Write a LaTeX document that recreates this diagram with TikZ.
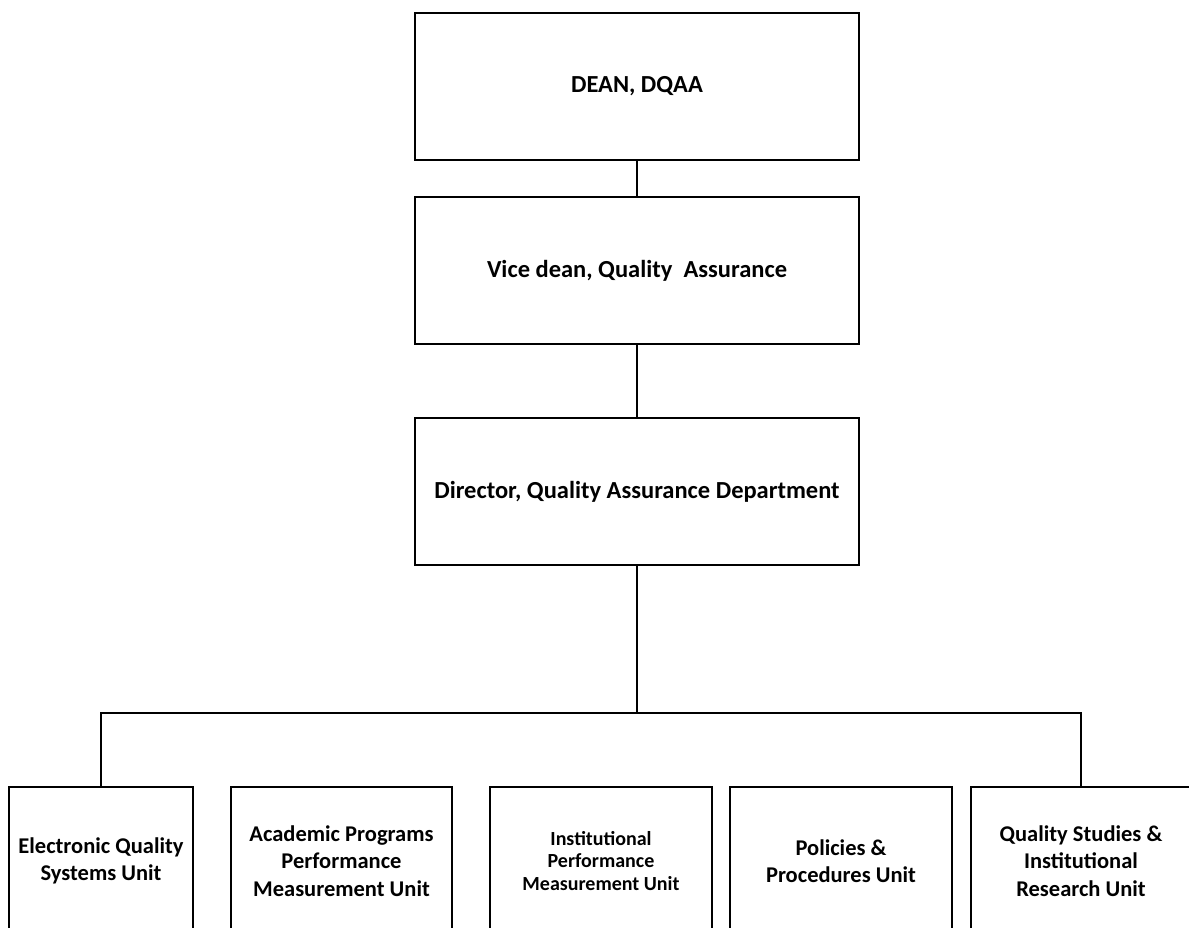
\documentclass[tikz,border=0pt]{standalone}
\usepackage{fontspec}
\setmainfont{Carlito}
\begin{document}
\begin{tikzpicture}[x=1pt,y=-1pt,
  orgbox/.style={draw=black, line width=1.2pt, rectangle, align=center,
    inner sep=0pt, font={\fontsize{22.5}{27.5}\selectfont\bfseries}},
  topbox/.style={orgbox, minimum width=444pt, minimum height=147pt,
    font={\fontsize{24.5}{29}\selectfont\bfseries}},
  unitbox/.style={orgbox, minimum height=148pt},
  conn/.style={draw=black, line width=1.2pt}]
\clip (0,0) rectangle (1189,928);
\fill[white] (0,0) rectangle (1189,928);

% management chain
\node[topbox] (dean) at (637,86.5) {DEAN, DQAA};
\node[topbox] (vice) at (637,270.5) {Vice dean, Quality\ \ Assurance};
\node[topbox] (dir) at (637,491.5) {Director, Quality Assurance Department};

% units
\node[unitbox, minimum width=184pt] (u1) at (101,861) {Electronic Quality\\Systems Unit};
\node[unitbox, minimum width=221pt] (u2) at (341.5,861) {Academic Programs\\Performance\\Measurement Unit};
\node[unitbox, minimum width=222pt, font={\fontsize{20}{22.5}\selectfont\bfseries}] (u3) at (601,861) {Institutional\\Performance\\Measurement Unit};
\node[unitbox, minimum width=222pt] (u4) at (841,861) {Policies \&\\Procedures Unit};
\node[unitbox, minimum width=220pt] (u5) at (1081,861) {Quality Studies \&\\Institutional\\Research Unit};

% connectors
\coordinate (bus) at (637,713);
\draw[conn] (dean.south) -- (vice.north);
\draw[conn] (vice.south) -- (dir.north);
\draw[conn] (dir.south) -- (bus);
\draw[conn] (u1.north) -- (u1.north |- bus) -- (u5.north |- bus) -- (u5.north);
\end{tikzpicture}
\end{document}
